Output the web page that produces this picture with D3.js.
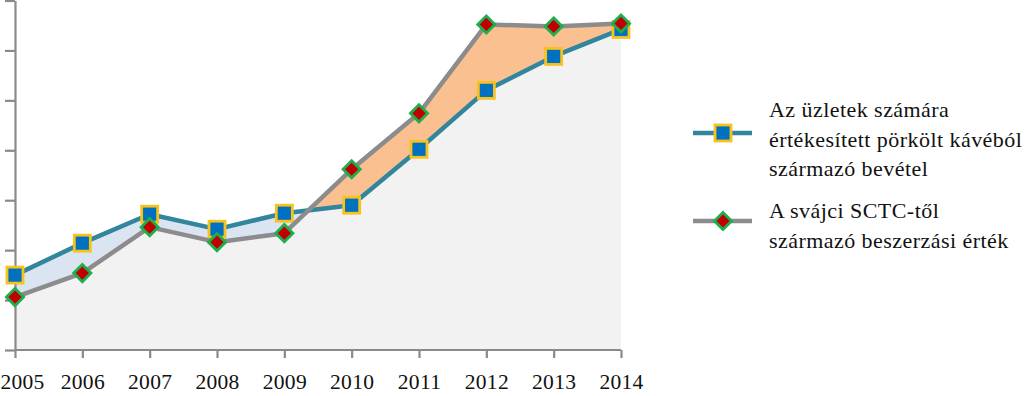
<!DOCTYPE html>
<html>
<head>
<meta charset="utf-8">
<script src="https://cdn.jsdelivr.net/npm/d3@7"></script>
<style>
  html, body { margin: 0; padding: 0; background: #ffffff; }
  svg { display: block; }
</style>
</head>
<body>
<svg id="chart" width="1026" height="396"></svg>
<script>
const years = [2005, 2006, 2007, 2008, 2009, 2010, 2011, 2012, 2013, 2014];
const revenue = [1.50, 2.14, 2.72, 2.42, 2.74, 2.90, 4.02, 5.20, 5.88, 6.42];
const purchase = [1.06, 1.54, 2.46, 2.16, 2.34, 3.62, 4.74, 6.52, 6.48, 6.54];
const yTicks = [0, 1, 2, 3, 4, 5, 6, 7];
const legendRevenue = ["Az üzletek számára", "értékesített pörkölt kávéból", "származó bevétel"];
const legendPurchase = ["A svájci SCTC-től", "származó beszerzási érték"];

const svg = d3.select("#chart");
const x = d3.scalePoint().domain(years).range([15, 621]);
const y = d3.scaleLinear().domain([0, 7]).range([350, 0.5]);
const data = years.map((yr, i) => ({ yr, r: revenue[i], p: purchase[i] }));

const defs = svg.append("defs");
const areaTop = key => d3.area().x(d => x(d.yr)).y0(0).y1(d => y(d[key]));
const areaBottom = key => d3.area().x(d => x(d.yr)).y0(350).y1(d => y(d[key]));

defs.append("clipPath").attr("id", "aboveP").append("path").attr("d", areaTop("p")(data));
defs.append("clipPath").attr("id", "aboveR").append("path").attr("d", areaTop("r")(data));
defs.append("clipPath").attr("id", "belowP").append("path").attr("d", areaBottom("p")(data));

// grey base under both
svg.append("path").attr("d", areaBottom("r")(data)).attr("fill", "#f2f2f2").attr("clip-path", "url(#belowP)");
// blue where revenue above purchase
svg.append("path").attr("d", areaBottom("r")(data)).attr("fill", "#dbe5f1").attr("clip-path", "url(#aboveP)");
// peach where purchase above revenue
svg.append("path").attr("d", areaBottom("p")(data)).attr("fill", "#fac090").attr("clip-path", "url(#aboveR)");

// axes
const axisColor = "#8a8a8a";
const gy = svg.append("g").attr("transform", "translate(15,0)")
  .call(d3.axisLeft(y).tickValues(yTicks).tickFormat("").tickSize(10).tickSizeOuter(0));
const gx = svg.append("g").attr("transform", "translate(0,350)")
  .call(d3.axisBottom(x).tickSize(8).tickSizeOuter(0).tickPadding(29));
[gy, gx].forEach(g => {
  g.select(".domain").attr("stroke", axisColor).attr("stroke-width", 2.2);
  g.selectAll(".tick line").attr("stroke", axisColor).attr("stroke-width", 2.2);
});
gx.select(".domain").attr("d", "M15,0H621");
gx.selectAll(".tick text")
  .attr("font-family", "'Liberation Serif', serif").attr("font-size", 21.5).attr("fill", "#111")
  .attr("dy", "0.1em").attr("letter-spacing", 0.3)
  .attr("x", (d, i) => i === 0 ? 7 : 0);

// lines
const line = key => d3.line().x(d => x(d.yr)).y(d => y(d[key]));
const blueLine = "#31859c", greyLine = "#8c8c8c";

svg.append("path").attr("d", line("r")(data)).attr("fill", "none").attr("stroke", blueLine).attr("stroke-width", 4.5).attr("stroke-linejoin", "round");
const sq = 16;
svg.selectAll("rect.sq").data(data).join("rect").attr("class", "sq")
  .attr("x", d => x(d.yr) - sq / 2).attr("y", d => y(d.r) - sq / 2)
  .attr("width", sq).attr("height", sq)
  .attr("fill", "#0070c0").attr("stroke", "#f7c21c").attr("stroke-width", 2.8);

svg.append("path").attr("d", line("p")(data)).attr("fill", "none").attr("stroke", greyLine).attr("stroke-width", 4.5).attr("stroke-linejoin", "round");
const dh = 8.6;
const diamond = `M0,${-dh}L${dh},0L0,${dh}L${-dh},0Z`;
svg.selectAll("path.dm").data(data).join("path").attr("class", "dm")
  .attr("d", diamond).attr("transform", d => `translate(${x(d.yr)},${y(d.p)})`)
  .attr("fill", "#c00000").attr("stroke", "#1fae4e").attr("stroke-width", 2.8);

// legend
const lg = svg.append("g");
lg.append("line").attr("x1", 693).attr("x2", 752).attr("y1", 133).attr("y2", 133).attr("stroke", blueLine).attr("stroke-width", 4.5);
lg.append("rect").attr("x", 723 - sq / 2).attr("y", 133 - sq / 2).attr("width", sq).attr("height", sq)
  .attr("fill", "#0070c0").attr("stroke", "#f7c21c").attr("stroke-width", 2.8);
lg.append("line").attr("x1", 693).attr("x2", 752).attr("y1", 221).attr("y2", 221).attr("stroke", greyLine).attr("stroke-width", 4.5);
lg.append("path").attr("d", diamond).attr("transform", "translate(723,221)")
  .attr("fill", "#c00000").attr("stroke", "#1fae4e").attr("stroke-width", 2.8);

const txt = (lines, y0) => {
  const t = lg.append("text").attr("font-family", "'Liberation Serif', serif").attr("font-size", 22)
    .attr("letter-spacing", 0.45).attr("fill", "#111");
  lines.forEach((s, i) => t.append("tspan").attr("x", 769).attr("y", y0 + i * 29.5).text(s));
};
txt(legendRevenue, 117);
txt(legendPurchase, 218);
</script>
</body>
</html>
